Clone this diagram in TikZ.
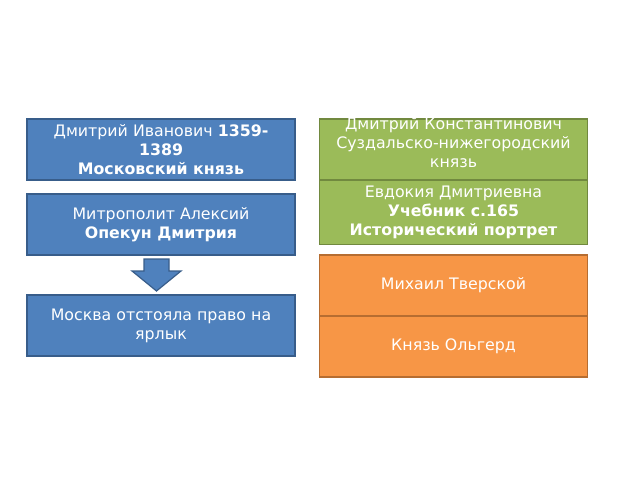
\documentclass[tikz,border=0pt]{standalone}
\usepackage{fontspec}
\setmainfont{DejaVu Sans}
\usepackage{xcolor}
\usetikzlibrary{positioning}
\definecolor{blfill}{HTML}{4F81BD}
\definecolor{bldraw}{HTML}{385D8A}
\definecolor{grfill}{HTML}{9BBB59}
\definecolor{grdraw}{HTML}{71893F}
\definecolor{orfill}{HTML}{F79646}
\definecolor{ordraw}{HTML}{B66D31}
\begin{document}
\begin{tikzpicture}[x=1pt, y=-1pt,
  card/.style={draw, line width=1.3pt, minimum width=268pt, minimum height=61pt,
    inner sep=0pt, outer sep=0pt, text=white, align=center,
    font=\fontsize{15.8}{19}\selectfont},
  bluecard/.style={card, fill=blfill, draw=bldraw},
  greencard/.style={card, fill=grfill, draw=grdraw},
  orangecard/.style={card, fill=orfill, draw=ordraw}]
\useasboundingbox (0,0) rectangle (640,480);
% left column
\node[bluecard] (dmitry) at (161,149.5) {Дмитрий Иванович \textbf{1359-}\\\textbf{1389}\\\textbf{Московский князь}};
\node[bluecard] (aleksy) at (161,224.5) {Митрополит Алексий\\\textbf{Опекун Дмитрия}};
\node[bluecard] (moskva) at (161,325.5) {Москва отстояла право на\\ярлык};
\draw[fill=blfill, draw=bldraw, line width=1.2pt] (144,259) -- (169,259) -- (169,271) -- (181,271)
  -- (156.5,291) -- (132,271) -- (144,271) -- cycle;
% right column
\node[greencard] (suzdal) at (453.5,149.5) {};
\node[text=white, align=center, font=\fontsize{15.8}{19}\selectfont] (suzdaltext) at (453.5,142.5)
  {Дмитрий Константинович\\Суздальско-нижегородский\\князь};
\node[greencard, minimum height=64pt] (evdokia) at (453.5,212.5) {Евдокия Дмитриевна\\\textbf{Учебник с.165}\\\textbf{Исторический портрет}};
\node[orangecard] (mikhail) at (453.5,285.5) {Михаил Тверской};
\node[orangecard] (olgerd) at (453.5,346.5) {Князь Ольгерд};
\end{tikzpicture}
\end{document}
